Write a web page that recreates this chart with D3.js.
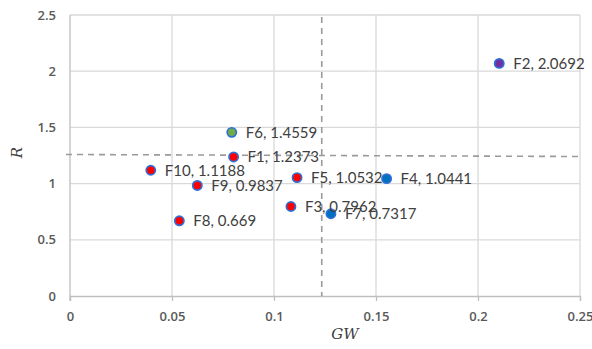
<!DOCTYPE html>
<html>
<head>
<meta charset="utf-8">
<script src="https://cdn.jsdelivr.net/npm/d3@7"></script>
<style>
  html, body { margin: 0; padding: 0; background: #fff; }
  svg { display: block; }
</style>
</head>
<body>
<svg id="chart" width="592" height="349"></svg>
<script>
// ---- data ----
const names = ["F1", "F2", "F3", "F4", "F5", "F6", "F7", "F8", "F9", "F10"];
const gwValues = [0.0802, 0.2104, 0.1083, 0.1552, 0.1113, 0.0793, 0.1279, 0.0536, 0.0624, 0.0396];
const rValues = [1.2373, 2.0692, 0.7962, 1.0441, 1.0532, 1.4559, 0.7317, 0.669, 0.9837, 1.1188];
const fillColors = ["#ff0000", "#7030a0", "#ff0000", "#0070c0", "#ff0000", "#70ad47", "#0070c0", "#ff0000", "#ff0000", "#ff0000"];
const xTicks = [0, 0.05, 0.1, 0.15, 0.2, 0.25];
const xTickLabels = ["0", "0.05", "0.1", "0.15", "0.2", "0.25"];
const yTicks = [0, 0.5, 1, 1.5, 2, 2.5];
const yTickLabels = ["0", "0.5", "1", "1.5", "2", "2.5"];
const thresholdGW = [0.1234];
const thresholdR = [1.259, 1.241]; // left end, right end of the dashed reference line
const xTitle = "GW";
const yTitle = "R";

// ---- layout ----
const svg = d3.select("#chart");
const mLeft = 70, mRight = 580, mTop = 15, mBottom = 296;
const x = d3.scaleLinear().domain([0, 0.25]).range([mLeft, mRight]);
const y = d3.scaleLinear().domain([0, 2.5]).range([mBottom, mTop]);

const gridColor = "#d9d9d9";
const axisColor = "#bfbfbf";
const tickTextColor = "#595959";

// vertical gridlines
svg.append("g").selectAll("line").data(xTicks.slice(1)).join("line")
  .attr("x1", d => x(d)).attr("x2", d => x(d))
  .attr("y1", mTop).attr("y2", mBottom)
  .attr("stroke", gridColor).attr("stroke-width", 1.3);
// horizontal gridlines
svg.append("g").selectAll("line").data(yTicks.slice(1)).join("line")
  .attr("x1", mLeft).attr("x2", mRight)
  .attr("y1", d => y(d)).attr("y2", d => y(d))
  .attr("stroke", gridColor).attr("stroke-width", 1.3);

// axes
const xAxis = d3.axisBottom(x).tickValues(xTicks).tickFormat((d, i) => xTickLabels[i]).tickSize(5).tickPadding(11);
const gx = svg.append("g").attr("transform", `translate(0,${mBottom})`).call(xAxis);
gx.select(".domain").attr("stroke", axisColor).attr("stroke-width", 1.3);
gx.selectAll(".tick line").attr("stroke", axisColor).attr("stroke-width", 1.3);
gx.selectAll(".tick text").attr("fill", tickTextColor)
  .style("font-family", "'Open Sans', sans-serif").style("font-size", "13px").style("font-weight", "600");

const yAxis = d3.axisLeft(y).tickValues(yTicks).tickFormat((d, i) => yTickLabels[i]).tickSize(0).tickPadding(14);
const gy = svg.append("g").attr("transform", `translate(${mLeft},0)`).call(yAxis);
gy.select(".domain").attr("stroke", axisColor).attr("stroke-width", 1.3).attr("d", `M0,${mTop}V${mBottom + 5}`);
gy.selectAll(".tick text").attr("fill", tickTextColor)
  .style("font-family", "'Open Sans', sans-serif").style("font-size", "13px").style("font-weight", "600");

// dashed reference lines
svg.append("line")
  .attr("x1", x(thresholdGW[0])).attr("x2", x(thresholdGW[0]))
  .attr("y1", mTop + 2).attr("y2", mBottom)
  .attr("stroke", "#9a9a9a").attr("stroke-width", 1.6).attr("stroke-dasharray", "6,5");
svg.append("line")
  .attr("x1", x(0) - 4).attr("x2", x(0.25))
  .attr("y1", y(thresholdR[0])).attr("y2", y(thresholdR[1]))
  .attr("stroke", "#9a9a9a").attr("stroke-width", 1.6).attr("stroke-dasharray", "6,5");

// points
const data = names.map((n, i) => ({ name: n, gw: gwValues[i], r: rValues[i], fill: fillColors[i] }));
svg.append("g").selectAll("circle").data(data).join("circle")
  .attr("cx", d => x(d.gw)).attr("cy", d => y(d.r)).attr("r", 4.6)
  .attr("fill", d => d.fill).attr("stroke", "#2e6fd6").attr("stroke-width", 1.7);

// labels
svg.append("g").selectAll("text").data(data).join("text")
  .attr("x", d => x(d.gw) + 14).attr("y", d => y(d.r))
  .attr("dy", "0.37em")
  .attr("fill", "#404040")
  .style("font-family", "Lato, 'Open Sans', sans-serif").style("font-size", "15px")
  .text(d => `${d.name}, ${d.r}`);

// axis titles
svg.append("text")
  .attr("x", (mLeft + mRight) / 2 + 20).attr("y", 339)
  .attr("text-anchor", "middle").attr("fill", "#404040")
  .style("font-family", "'DejaVu Serif', serif").style("font-style", "italic").style("font-size", "15px")
  .text(xTitle);
svg.append("text")
  .attr("transform", `translate(22,${(mTop + mBottom) / 2 - 3}) rotate(-90)`)
  .attr("text-anchor", "middle").attr("fill", "#404040")
  .style("font-family", "'DejaVu Serif', serif").style("font-style", "italic").style("font-size", "15px")
  .text(yTitle);
</script>
</body>
</html>
